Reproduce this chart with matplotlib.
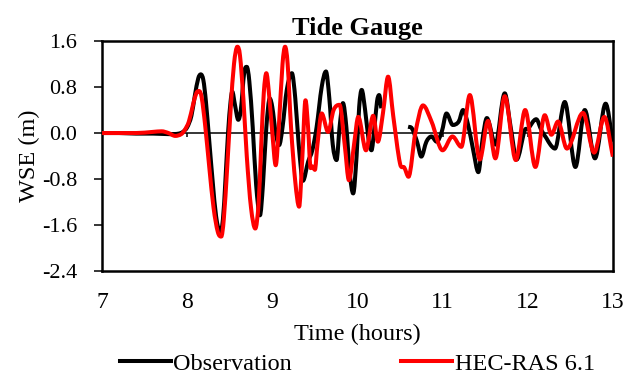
import numpy as np
import matplotlib
matplotlib.use("Agg")
import matplotlib.pyplot as plt
from matplotlib.path import Path
from matplotlib.patches import PathPatch
from matplotlib.lines import Line2D

plt.rcParams['font.family'] = ['Liberation Serif', 'DejaVu Serif']

# observed water surface elevation (m) vs time (hours); NaN = gap in record
obs_t = [7.00, 7.20, 7.40, 7.60, 7.80, 7.90, 7.95, 8.00, 8.05, 8.09, 8.13, 8.16, 8.19,
         8.22, 8.26, 8.30, 8.34, 8.385, 8.42, 8.45, 8.48, 8.51, 8.53, 8.56, 8.60,
         8.63, 8.67, 8.70, 8.73, 8.77, 8.81, 8.855, 8.89, 8.93, 8.97, 9.00, 9.04,
         9.08, 9.12, 9.17, 9.23, 9.27, 9.31, 9.36, 9.42, 9.47, 9.52, 9.58, 9.63,
         9.67, 9.71, 9.755, 9.79, 9.83, 9.87, 9.91, 9.95, 9.99, 10.02, 10.05, 10.09,
         10.13, 10.165, 10.20, 10.23, 10.255, 10.28, 10.40, 10.595, 10.64, 10.70,
         10.75, 10.81, 10.87, 10.93, 10.99, 11.046, 11.12, 11.19, 11.24, 11.30,
         11.36, 11.42, 11.47, 11.52, 11.62, 11.73, 11.80, 11.87, 11.965, 12.00,
         12.10, 12.16, 12.22, 12.27, 12.32, 12.435, 12.56, 12.67, 12.79, 12.915, 13.00]
obs_v = [0.00, 0.00, -0.01, -0.01, -0.02, -0.01, 0.02, 0.10, 0.30, 0.65, 0.95, 1.02, 0.92,
         0.55, -0.15, -0.85, -1.45, -1.72, -1.50, -0.80, 0.00, 0.55, 0.72, 0.50, 0.23,
         0.40, 1.05, 1.15, 0.90, 0.10, -0.90, -1.43, -0.90, 0.10, 0.60, 0.45, 0.00,
         -0.21, 0.10, 0.75, 1.04, 0.60, -0.20, -0.83, -0.50, -0.30, 0.10, 0.80, 1.07,
         0.60, -0.20, -0.47, 0.10, 0.52, 0.10, -0.70, -1.05, -0.40, 0.45, 0.75, 0.40,
         -0.10, -0.30, 0.10, 0.55, 0.66, 0.43, np.nan, 0.11, 0.08, -0.15,
         -0.41, -0.15, -0.06, -0.15, 0.02, 0.34, 0.14, 0.20, 0.40, 0.14,
         -0.30, -0.68, -0.10, 0.26, -0.20, 0.69, 0.10, -0.46, 0.05, 0.07,
         0.24, 0.05, -0.09, -0.21, -0.27, 0.54, -0.59, 0.40, -0.44, 0.51, -0.15]

# HEC-RAS 6.1 model result
ras_t = [7.00, 7.40, 7.60, 7.70, 7.78, 7.86, 7.93, 7.97, 8.02, 8.07, 8.11, 8.14, 8.17,
         8.21, 8.26, 8.31, 8.36, 8.40, 8.43, 8.47, 8.51, 8.55, 8.59, 8.62, 8.66,
         8.70, 8.75, 8.80, 8.84, 8.87, 8.90, 8.93, 8.96, 9.00, 9.04, 9.08, 9.12,
         9.15, 9.18, 9.22, 9.27, 9.315, 9.35, 9.39, 9.42, 9.45, 9.47, 9.50, 9.53,
         9.58, 9.655, 9.72, 9.79, 9.85, 9.90, 9.96, 10.01, 10.10, 10.185, 10.24,
         10.30, 10.36, 10.42, 10.50, 10.55, 10.60, 10.68, 10.77, 10.87, 11.00,
         11.116, 11.22, 11.32, 11.437, 11.534, 11.62, 11.73, 11.86, 11.97, 12.09,
         12.20, 12.278, 12.356, 12.46, 12.65, 12.78, 12.90, 13.00]
ras_v = [0.00, 0.00, 0.02, 0.03, 0.00, -0.05, -0.02, 0.05, 0.20, 0.50, 0.70, 0.73, 0.62,
         0.15, -0.60, -1.30, -1.72, -1.80, -1.50, -0.60, 0.40, 1.20, 1.50, 1.35, 0.60,
         -0.40, -1.30, -1.66, -1.20, -0.20, 0.70, 1.04, 0.70, 0.00, -0.56, 0.20, 1.20,
         1.50, 1.20, 0.10, -0.85, -1.28, -0.50, 0.57, 0.10, -0.61, -0.58, -0.64, -0.20,
         0.34, 0.02, 0.40, 0.49, -0.20, -0.82, -0.20, 0.28, -0.30, 0.30, -0.15,
         0.35, 0.98, 0.30, -0.53, -0.60, -0.76, 0.00, 0.48, 0.20, -0.30,
         -0.06, -0.24, 0.66, -0.46, 0.21, -0.44, 0.64, -0.47, 0.40, -0.59,
         0.31, -0.03, 0.20, -0.27, 0.35, -0.34, 0.28, -0.41]

x_ticks = [7, 8, 9, 10, 11, 12, 13]
y_ticks = [-2.4, -1.6, -0.8, 0.0, 0.8, 1.6]


def smooth_path(t, v):
    # Excel-like smoothed line: cubic Bezier through the points, flat at local extrema
    t = np.asarray(t, float)
    v = np.asarray(v, float)
    verts, codes = [], []
    ok = ~np.isnan(v)
    idx = np.flatnonzero(ok)
    runs = np.split(idx, np.flatnonzero(np.diff(idx) > 1) + 1)
    for r in runs:
        x, y = t[r], v[r]
        n = len(x)
        if n < 2:
            continue
        dx = np.gradient(x)
        dy = np.gradient(y)
        for i in range(1, n - 1):
            if (y[i] - y[i - 1]) * (y[i + 1] - y[i]) <= 0:
                dy[i] = 0.0
        verts.append((x[0], y[0]))
        codes.append(Path.MOVETO)
        for i in range(n - 1):
            h = (x[i + 1] - x[i])
            s0 = dy[i] / dx[i]
            s1 = dy[i + 1] / dx[i + 1]
            verts += [(x[i] + h / 3, y[i] + s0 * h / 3),
                      (x[i + 1] - h / 3, y[i + 1] - s1 * h / 3),
                      (x[i + 1], y[i + 1])]
            codes += [Path.CURVE4] * 3
    return Path(verts, codes)


fig = plt.figure(figsize=(6.26, 3.76), dpi=100)
ax = fig.add_axes([0.163, 0.279, 0.816, 0.612])

# Excel-style horizontal axis crossing at zero
ax.axhline(0, color='black', lw=1.1, zorder=1)
ax.vlines(x_ticks, -0.07, 0, color='black', lw=1.1, zorder=1)

ax.add_patch(PathPatch(smooth_path(obs_t, obs_v), fill=False, edgecolor='black',
                       lw=2.9, joinstyle='round', zorder=2))
ax.add_patch(PathPatch(smooth_path(ras_t, ras_v), fill=False, edgecolor='#ff0000',
                       lw=2.9, joinstyle='round', zorder=3))

ax.set_xlim(7, 13)
ax.set_ylim(-2.4, 1.6)
ax.set_xticks(x_ticks)
ax.set_yticks(y_ticks)
ax.set_yticklabels([f"{v:.1f}" for v in y_ticks])
ax.tick_params(axis='x', length=0, pad=15, labelsize=17)
ax.tick_params(axis='y', direction='out', length=6, width=1.1, pad=12, labelsize=16)
for s in ax.spines.values():
    s.set_linewidth(1.8)

ax.set_title("Tide Gauge", fontsize=19, fontweight='bold', pad=4)
ax.set_xlabel("Time (hours)", fontsize=17.5, labelpad=8)
ax.set_ylabel("WSE (m)", fontsize=17.5, labelpad=1)

handles = [Line2D([], [], color='black', lw=2.9), Line2D([], [], color='#ff0000', lw=2.9)]
ax.legend(handles, ['Observation', 'HEC-RAS 6.1'], loc='upper center',
          bbox_to_anchor=(0.5, -0.355), ncol=2, frameon=False,
          fontsize=17.5, handlelength=2.1, handletextpad=0.1, columnspacing=4.5,
          borderpad=0, borderaxespad=0)

fig.savefig("out.png", dpi=100)
